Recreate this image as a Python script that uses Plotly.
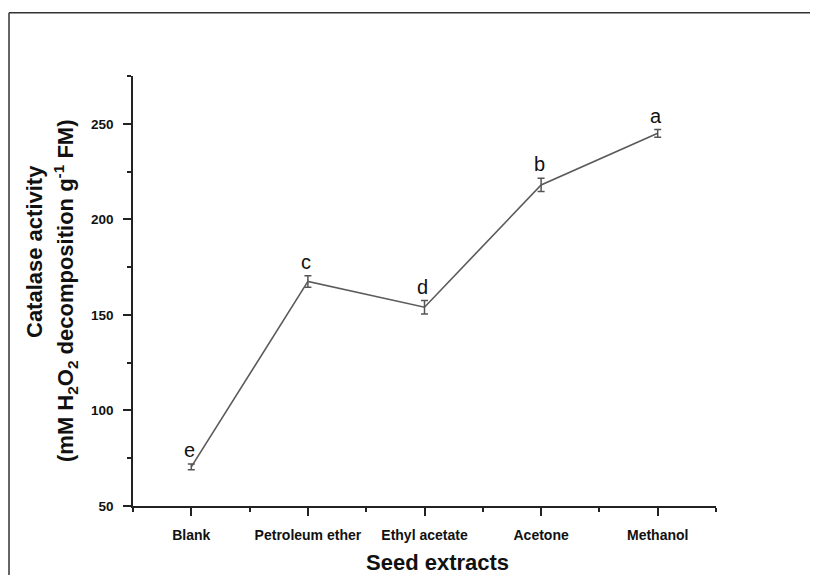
import plotly.graph_objects as go

categories = ["Blank", "Petroleum ether", "Ethyl acetate", "Acetone", "Methanol"]
catalase = [70.5, 167.5, 154.0, 218.0, 245.0]
errors = [1.5, 3.0, 3.5, 3.5, 2.0]
letters = ["e", "c", "d", "b", "a"]
y_ticks = [50, 100, 150, 200, 250]

# the page body has an 8px margin, so the figure is laid out in page pixels minus 8
OFF = 8
W, H = 818 - 2 * OFF, 583 - 2 * OFF
L = 133 - OFF
T = 76 - OFF
R = W - (716 - OFF)
B = H - (506 - OFF)
PW, PH = W - L - R, H - T - B


def xp(px):
    return (px - OFF - L) / PW


def yp(py):
    return (H - B - (py - OFF)) / PH


FONT = "Arial, Liberation Sans, Helvetica, sans-serif"
AX = "#222222"

x_idx = list(range(len(categories)))

fig = go.Figure()
fig.add_trace(go.Scatter(
    x=x_idx, y=catalase, mode="lines",
    line=dict(color="#5a5a5a", width=1.6),
    error_y=dict(type="data", array=errors, visible=True,
                 color="#555555", thickness=1.5, width=3.5),
    showlegend=False, hoverinfo="skip",
))

annotations = []
for xi, yv, e, lt in zip(x_idx, catalase, errors, letters):
    annotations.append(dict(
        x=xi, y=yv + e, xref="x", yref="y", text=lt, showarrow=False,
        xanchor="center", yanchor="bottom", yshift=1, xshift=-2,
        font=dict(family=FONT, size=20, color="#111111"),
    ))

annotations.append(dict(
    x=xp(34), y=yp(252), xref="paper", yref="paper",
    text="Catalase activity", textangle=-90, showarrow=False,
    xanchor="center", yanchor="middle",
    font=dict(family=FONT, size=22, color="#111111", weight="bold"),
))
annotations.append(dict(
    x=xp(65), y=yp(291), xref="paper", yref="paper",
    text="(mM H<sub>2</sub>O<sub>2</sub> decomposition g<sup>-1</sup> FM)",
    textangle=-90, showarrow=False,
    xanchor="center", yanchor="middle",
    font=dict(family=FONT, size=22, color="#111111", weight="bold"),
))
annotations.append(dict(
    x=xp(437), y=yp(562), xref="paper", yref="paper",
    text="Seed extracts", showarrow=False,
    xanchor="center", yanchor="middle",
    font=dict(family=FONT, size=22, color="#111111", weight="bold"),
))

shapes = [
    dict(type="line", xref="paper", yref="paper",
         x0=xp(9), y0=yp(12.7), x1=xp(830), y1=yp(12.7),
         line=dict(color="#333333", width=1.5), layer="above"),
    dict(type="line", xref="paper", yref="paper",
         x0=xp(9), y0=yp(12.7), x1=xp(9), y1=yp(600),
         line=dict(color="#333333", width=1.5), layer="above"),
]

fig.update_layout(
    width=W, height=H,
    margin=dict(l=L, r=R, t=T, b=B, pad=0),
    paper_bgcolor="white", plot_bgcolor="white",
    annotations=annotations, shapes=shapes,
    xaxis=dict(
        range=[-0.5, 4.5], tickmode="array", tickvals=x_idx, ticktext=categories,
        showline=True, linecolor=AX, linewidth=1.6,
        ticks="outside", ticklen=8, tickwidth=1.5, tickcolor=AX,
        showgrid=False, zeroline=False,
        tickfont=dict(family=FONT, size=14, color="#111111", weight="bold"),
        minor=dict(ticks="outside", ticklen=4, tickwidth=1.5, tickcolor=AX,
                   tickmode="linear", tick0=0.5, dtick=1, showgrid=False),
        ticklabelstandoff=7,
    ),
    yaxis=dict(
        range=[50, 275], tickmode="array", tickvals=y_ticks,
        showline=True, linecolor=AX, linewidth=1.6,
        ticks="outside", ticklen=8, tickwidth=1.5, tickcolor=AX,
        showgrid=False, zeroline=False,
        tickfont=dict(family=FONT, size=13.5, color="#111111", weight="bold"),
        minor=dict(ticks="outside", ticklen=4, tickwidth=1.5, tickcolor=AX,
                   tickmode="linear", tick0=50, dtick=25, showgrid=False),
        ticklabelstandoff=7,
    ),
)

fig.write_html("out.html")
